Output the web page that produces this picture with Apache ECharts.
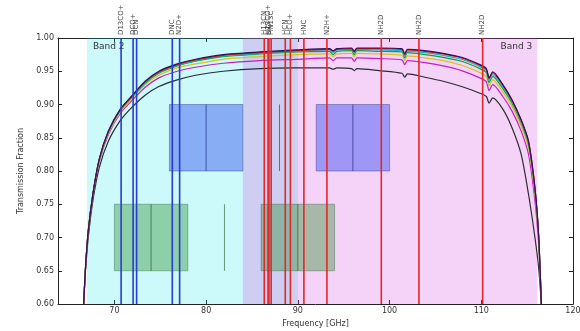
<!DOCTYPE html>
<html>
<head>
<meta charset="utf-8">
<script src="https://cdn.jsdelivr.net/npm/echarts@6/dist/echarts.min.js"></script>
<style>
  html, body { margin: 0; padding: 0; background: #fff; }
  #TransContainer { width: 580px; height: 331px; }
</style>
</head>
<body>
<div id="TransContainer"></div>
<script>
// frequency grid (GHz) the transmission curves are sampled on
var freqs = [66.65, 66.85, 67.15, 67.65, 68.35, 69.35, 70.65, 71.85, 73.35, 74.85, 76.85, 78.85, 81.85, 85.85, 89.85,
    93.45, 93.85, 94.25, 95.85, 96.15, 96.45, 98.85, 101.35, 101.65, 101.95, 103.85, 105.85, 107.85, 109.85,
    110.55, 110.85, 111.25, 112.35, 113.35, 114.35, 115.15, 115.85, 116.25, 116.55];

// transmission curves, one per colour
var transBlue = [0.60, 0.655, 0.71, 0.765, 0.818, 0.860, 0.893, 0.912, 0.935, 0.950, 0.961, 0.968, 0.975, 0.979, 0.982,
    0.984, 0.981, 0.984, 0.985, 0.980, 0.985, 0.985, 0.984, 0.976, 0.983, 0.981, 0.977, 0.971, 0.960,
    0.954, 0.940, 0.949, 0.930, 0.907, 0.877, 0.845, 0.775, 0.705, 0.60];
var transRed = [0.60, 0.655, 0.71, 0.765, 0.818, 0.860, 0.893, 0.912, 0.934, 0.949, 0.960, 0.967, 0.974, 0.978, 0.981,
    0.983, 0.980, 0.983, 0.984, 0.979, 0.984, 0.984, 0.983, 0.975, 0.982, 0.980, 0.976, 0.970, 0.959,
    0.953, 0.939, 0.948, 0.929, 0.906, 0.876, 0.844, 0.774, 0.704, 0.60];
var transCyan = [0.60, 0.655, 0.710, 0.765, 0.817, 0.859, 0.892, 0.911, 0.933, 0.948, 0.959, 0.966, 0.973, 0.977, 0.980,
    0.982, 0.978, 0.982, 0.983, 0.977, 0.983, 0.982, 0.981, 0.972, 0.980, 0.978, 0.974, 0.968, 0.957,
    0.951, 0.936, 0.945, 0.927, 0.904, 0.874, 0.842, 0.772, 0.703, 0.60];
var transGreen = [0.60, 0.655, 0.710, 0.765, 0.817, 0.859, 0.891, 0.910, 0.932, 0.947, 0.958, 0.965, 0.972, 0.976, 0.979,
    0.980, 0.975, 0.980, 0.981, 0.975, 0.981, 0.980, 0.979, 0.970, 0.978, 0.975, 0.971, 0.965, 0.954,
    0.948, 0.933, 0.942, 0.924, 0.902, 0.872, 0.840, 0.770, 0.701, 0.60];
var transYellow = [0.60, 0.655, 0.709, 0.764, 0.816, 0.857, 0.889, 0.908, 0.930, 0.944, 0.955, 0.961, 0.968, 0.972, 0.975,
    0.976, 0.972, 0.976, 0.977, 0.972, 0.977, 0.976, 0.974, 0.966, 0.973, 0.970, 0.966, 0.959, 0.948,
    0.942, 0.928, 0.937, 0.919, 0.897, 0.867, 0.835, 0.765, 0.698, 0.60];
var transMagenta = [0.60, 0.654, 0.708, 0.762, 0.814, 0.855, 0.887, 0.905, 0.926, 0.940, 0.950, 0.956, 0.962, 0.966, 0.968,
    0.970, 0.966, 0.970, 0.970, 0.965, 0.970, 0.969, 0.967, 0.960, 0.966, 0.963, 0.958, 0.951, 0.940,
    0.934, 0.921, 0.930, 0.912, 0.890, 0.860, 0.825, 0.755, 0.690, 0.60];
var transBlack = [0.60, 0.65, 0.70, 0.755, 0.805, 0.845, 0.876, 0.895, 0.914, 0.927, 0.937, 0.944, 0.950, 0.954, 0.955,
    0.955, 0.953, 0.955, 0.954, 0.951, 0.954, 0.951, 0.947, 0.941, 0.946, 0.941, 0.935, 0.927, 0.917,
    0.912, 0.902, 0.910, 0.893, 0.865, 0.825, 0.765, 0.700, 0.655, 0.60];

// receiver bands [start, end] GHz
var bandNames = ['Band 2', 'Band 3'];
var bandRanges = [[67, 90], [84, 116.1]];

// spectral windows [f0, f1, tLow, tHigh]
var blueBoxes = [[76, 80, 0.8, 0.9], [80, 84, 0.8, 0.9], [92, 96, 0.8, 0.9], [96, 100, 0.8, 0.9], [88, 88, 0.8, 0.9]];
var greenBoxes = [[70, 74, 0.65, 0.75], [74, 78, 0.65, 0.75], [86, 90, 0.65, 0.75], [90, 94, 0.65, 0.75], [82, 82, 0.65, 0.75]];

// molecular lines
var blueLineFreqs = [70.73, 72.04, 72.42, 76.31, 77.11];
var blueLineNames = ['D13CO+', 'DCO+', 'DCN', 'DNC', 'N2D+'];
var redLineFreqs = [86.34, 86.75, 86.85, 87.09, 88.63, 89.19, 90.66, 93.17, 99.1, 103.2, 110.15];
var redLineNames = ['H13CN', 'H13CO+', 'SiO', 'HN13C', 'HCN', 'HCO+', 'HNC', 'N2H+', 'NH2D', 'NH2D', 'NH2D'];

var xTicks = [70, 80, 90, 100, 110, 120];

function Set_Trans_echarts(){
    var TransContainer = document.getElementById('TransContainer');
    var myChart_Trans = echarts.init(TransContainer, null, {
    renderer: 'canvas',
    useDirtyRect: false
    });

    function pairs(ys) {
        return freqs.map(function (f, i) { return [f, ys[i]]; });
    }

    function rectRenderer(fill, stroke, lw) {
        return function (params, api) {
            var p0 = api.coord([api.value(0), api.value(3)]);
            var p1 = api.coord([api.value(1), api.value(2)]);
            return {
                type: 'rect',
                shape: { x: p0[0], y: p0[1], width: p1[0] - p0[0], height: p1[1] - p0[1] },
                style: { fill: fill, stroke: stroke, lineWidth: lw }
            };
        };
    }

    function lineRenderer(color, names) {
        return function (params, api) {
            var p0 = api.coord([api.value(0), 0.6]);
            var p1 = api.coord([api.value(0), 1.0]);
            return {
                type: 'group',
                children: [
                    {
                        type: 'line',
                        shape: { x1: p0[0], y1: p0[1], x2: p1[0], y2: p1[1] },
                        style: { stroke: color, lineWidth: 1.6 }
                    },
                    {
                        type: 'text',
                        x: p1[0], y: p1[1] - 3,
                        rotation: Math.PI / 2,
                        style: {
                            text: names[params.dataIndex], fontSize: 7, fill: '#444',
                            fontFamily: 'DejaVu Sans', align: 'left', verticalAlign: 'middle'
                        }
                    }
                ]
            };
        };
    }

    var curveDefs = [
        ['black', transBlack, '#2b2b33'],
        ['magenta', transMagenta, '#c020c8'],
        ['yellow', transYellow, '#d8c020'],
        ['green', transGreen, '#10a030'],
        ['cyan', transCyan, '#10c0c0'],
        ['red', transRed, '#e01010'],
        ['blue', transBlue, '#301060']
    ];

    var series = [
    {
    name: 'bands',
    type: 'custom',
    silent: true,
    clip: false,
    data: bandRanges.map(function (r) { return [r[0], r[1], 0.6, 1.0]; }),
    renderItem: function (params, api) {
        var p0 = api.coord([api.value(0), 1.0]);
        var p1 = api.coord([api.value(1), 0.6]);
        var i = params.dataIndex;
        return {
            type: 'group',
            children: [
                {
                    type: 'rect',
                    shape: { x: p0[0], y: p0[1], width: p1[0] - p0[0], height: p1[1] - p0[1] },
                    style: { fill: i === 0 ? 'rgba(0,225,225,0.2)' : 'rgba(215,70,225,0.24)' }
                },
                {
                    type: 'text',
                    x: i === 0 ? p0[0] + 6 : p1[0] - 5,
                    y: p0[1] + 9,
                    style: {
                        text: bandNames[i], fontSize: 9, fill: '#333', fontFamily: 'DejaVu Sans',
                        align: i === 0 ? 'left' : 'right', verticalAlign: 'middle'
                    }
                }
            ]
        };
    },
    z: 1
    },
    {
    name: 'blueWindows',
    type: 'custom',
    silent: true,
    data: blueBoxes,
    renderItem: rectRenderer('rgba(40,70,240,0.42)', 'rgba(30,40,120,0.55)', 0.7),
    z: 2
    },
    {
    name: 'greenWindows',
    type: 'custom',
    silent: true,
    data: greenBoxes,
    renderItem: rectRenderer('rgba(40,140,40,0.38)', 'rgba(30,80,40,0.5)', 0.7),
    z: 2
    }
    ];

    curveDefs.forEach(function (c) {
        series.push({
        name: c[0],
        type: 'line',
        data: pairs(c[1]),
        smooth: 0.25,
        showSymbol: false,
        silent: true,
        lineStyle: { color: c[2], width: 1.2 },
        z: 3
        });
    });

    series.push({
    name: 'blueLines',
    type: 'custom',
    silent: true,
    clip: false,
    data: blueLineFreqs.map(function (f) { return [f]; }),
    renderItem: lineRenderer('#2a3ad8', blueLineNames),
    z: 4
    });
    series.push({
    name: 'redLines',
    type: 'custom',
    silent: true,
    clip: false,
    data: redLineFreqs.map(function (f) { return [f]; }),
    renderItem: lineRenderer('#e02828', redLineNames),
    z: 4
    });

    var option;

    option = {
    animation: false,
    backgroundColor: '#fff',
    textStyle: { fontFamily: 'DejaVu Sans' },
    grid: {
    left: 58, right: 7, top: 38, bottom: 27,
    containLabel: false,
    outerBoundsMode: 'none'
    },
    xAxis: [
    {
    type: 'value',
    min: 63.85,
    max: 120,
    position: 'bottom',
    name: 'Frequency [GHz]',
    nameLocation: 'middle',
    nameGap: 13,
    nameTextStyle: { fontSize: 8, color: '#333' },
    axisLine: { lineStyle: { color: '#222', width: 1 } },
    axisTick: { inside: true, length: 4, customValues: xTicks, lineStyle: { color: '#222' } },
    axisLabel: { fontSize: 8, color: '#333', margin: 3, customValues: xTicks },
    splitLine: { show: false }
    },
    {
    type: 'value',
    min: 63.85,
    max: 120,
    position: 'top',
    axisLine: { lineStyle: { color: '#222', width: 1 } },
    axisTick: { inside: true, length: 4, customValues: xTicks, lineStyle: { color: '#222' } },
    axisLabel: { show: false },
    splitLine: { show: false }
    }
    ],
    yAxis: [
    {
    type: 'value',
    min: 0.6,
    max: 1.0,
    interval: 0.05,
    name: 'Transmission Fraction',
    nameLocation: 'middle',
    nameGap: 24,
    nameTextStyle: { fontSize: 8, color: '#333' },
    axisLine: { show: true, lineStyle: { color: '#222', width: 1 } },
    axisTick: { show: true, inside: true, length: 4, lineStyle: { color: '#222' } },
    axisLabel: {
        fontSize: 8, color: '#333', margin: 4,
        formatter: function (v) { return v.toFixed(2); }
    },
    splitLine: { show: false }
    },
    {
    type: 'value',
    min: 0.6,
    max: 1.0,
    interval: 0.05,
    position: 'right',
    axisLine: { show: true, lineStyle: { color: '#222', width: 1 } },
    axisTick: { show: true, inside: true, length: 4, lineStyle: { color: '#222' } },
    axisLabel: { show: false },
    splitLine: { show: false }
    }
    ],
    series: series
    };

    if (option && typeof option === 'object') {
    myChart_Trans.setOption(option);
    }

    window.addEventListener('resize', myChart_Trans.resize);
}
Set_Trans_echarts();
</script>
</body>
</html>
